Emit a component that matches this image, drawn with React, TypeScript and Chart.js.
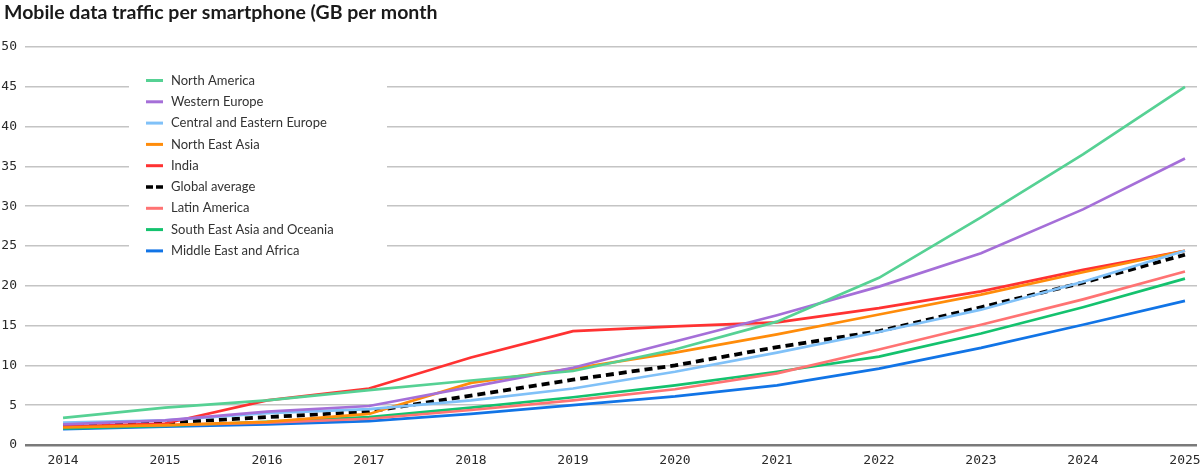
import React, { useEffect, useRef } from "react";
import { Chart, registerables } from "chart.js";

Chart.register(...registerables);

const titleText = "Mobile data traffic per smartphone (GB per month";

const years = [2014, 2015, 2016, 2017, 2018, 2019, 2020, 2021, 2022, 2023, 2024, 2025];
const yTicks = [0, 5, 10, 15, 20, 25, 30, 35, 40, 45, 50];

const northAmerica = [3.4, 4.7, 5.6, 6.9, 8.1, 9.3, 12.0, 15.5, 21.0, 28.6, 36.5, 45.0];
const westernEurope = [2.6, 3.1, 4.2, 4.9, 7.3, 9.7, 13.0, 16.3, 19.9, 24.1, 29.6, 36.0];
const centralEasternEurope = [2.8, 3.1, 4.0, 4.5, 5.6, 7.1, 9.2, 11.6, 14.2, 17.0, 20.5, 24.4];
const northEastAsia = [2.2, 2.5, 2.9, 3.9, 7.8, 9.6, 11.6, 13.9, 16.4, 18.9, 21.7, 24.4];
const india = [2.3, 2.7, 5.6, 7.1, 11.0, 14.3, 14.9, 15.4, 17.2, 19.3, 22.0, 24.4];
const globalAverage = [2.4, 2.8, 3.5, 4.2, 6.2, 8.2, 10.0, 12.3, 14.3, 17.3, 20.4, 23.9];
const latinAmerica = [2.3, 2.5, 2.8, 3.3, 4.4, 5.6, 7.0, 9.0, 12.0, 15.1, 18.3, 21.8];
const southEastAsiaOceania = [2.1, 2.4, 2.9, 3.5, 4.7, 6.0, 7.5, 9.2, 11.1, 14.0, 17.3, 20.9];
const middleEastAfrica = [2.0, 2.3, 2.6, 3.0, 3.9, 5.0, 6.1, 7.5, 9.6, 12.2, 15.1, 18.1];

const seriesNames = [
  "North America",
  "Western Europe",
  "Central and Eastern Europe",
  "North East Asia",
  "India",
  "Global average",
  "Latin America",
  "South East Asia and Oceania",
  "Middle East and Africa",
];
const seriesValues = [
  northAmerica,
  westernEurope,
  centralEasternEurope,
  northEastAsia,
  india,
  globalAverage,
  latinAmerica,
  southEastAsiaOceania,
  middleEastAfrica,
];
const seriesColors = [
  "#56d194",
  "#a56fd8",
  "#80c1f8",
  "#ff8c0a",
  "#ff3232",
  "#000000",
  "#ff7373",
  "#14c26e",
  "#1174e6",
];
const dashedSeries = [false, false, false, false, false, true, false, false, false];

const labelFont = "'Lato', 'Noto Sans', sans-serif";
const tickFont = "'DejaVu Sans Mono', monospace";

const titlePlugin = {
  id: "topTitle",
  afterDraw(chart: any) {
    const ctx = chart.ctx;
    ctx.save();
    ctx.fillStyle = "#1a1a1a";
    ctx.font = `bold 19.5px ${labelFont}`;
    ctx.textBaseline = "alphabetic";
    ctx.textAlign = "left";
    ctx.fillText(titleText, 4, 19);
    ctx.restore();
  },
};

const boxLegendPlugin = {
  id: "boxLegend",
  afterDatasetsDraw(chart: any) {
    const ctx = chart.ctx;
    const area = chart.chartArea;
    const boxX = area.left + 104;
    const boxY = area.top + 14;
    ctx.save();
    ctx.fillStyle = "#ffffff";
    ctx.fillRect(boxX, boxY, 258, 206);
    const swX = boxX + 17;
    const swW = 17;
    const textX = boxX + 42;
    const rowY0 = area.top + 33.5;
    const rowStep = 21.3;
    chart.data.datasets.forEach((ds: any, i: number) => {
      const y = rowY0 + i * rowStep;
      ctx.beginPath();
      ctx.strokeStyle = ds.borderColor;
      ctx.lineWidth = ds.borderDash && ds.borderDash.length ? 3.5 : 3;
      ctx.setLineDash(ds.borderDash && ds.borderDash.length ? [7, 3] : []);
      ctx.moveTo(swX, y);
      ctx.lineTo(swX + swW, y);
      ctx.stroke();
      ctx.setLineDash([]);
      ctx.fillStyle = "#333333";
      ctx.font = `13px ${labelFont}`;
      ctx.textBaseline = "middle";
      ctx.textAlign = "left";
      ctx.fillText(ds.label, textX, y);
    });
    ctx.restore();
  },
};

export default function App() {
  const canvasRef = useRef<HTMLCanvasElement | null>(null);

  useEffect(() => {
    const canvas = canvasRef.current;
    if (!canvas) return;
    const datasets = seriesNames.map((name, i) => ({
      label: name,
      data: years.map((yr, j) => ({ x: yr, y: seriesValues[i][j] })),
      borderColor: seriesColors[i],
      backgroundColor: seriesColors[i],
      borderWidth: dashedSeries[i] ? 3.8 : 2.7,
      borderDash: dashedSeries[i] ? [8, 5] : [],
      pointRadius: 0,
      pointHoverRadius: 0,
      tension: 0,
      fill: false,
    }));

    const chart = new Chart(canvas, {
      type: "line",
      data: { datasets },
      options: {
        animation: false,
        responsive: false,
        maintainAspectRatio: false,
        layout: { padding: { top: 47, left: 0, right: 3, bottom: 0 } },
        plugins: {
          legend: { display: false },
          title: { display: false },
          tooltip: { enabled: false },
        },
        scales: {
          x: {
            type: "linear",
            min: years[0] - 0.373,
            max: years[years.length - 1] + 0.118,
            afterBuildTicks: (scale: any) => {
              scale.ticks = years.map((v) => ({ value: v }));
            },
            afterFit: (scale: any) => {
              scale.height = 25;
              scale.paddingLeft = 0;
              scale.paddingRight = 0;
            },
            grid: { display: false, drawTicks: false },
            border: { display: false },
            ticks: {
              autoSkip: false,
              maxRotation: 0,
              padding: 8,
              color: "#2a2a2a",
              font: { family: tickFont, size: 13 },
              callback: (v: any) => String(v),
            },
          },
          y: {
            type: "linear",
            min: 0,
            max: 50,
            afterBuildTicks: (scale: any) => {
              scale.ticks = yTicks.map((v) => ({ value: v }));
            },
            afterFit: (scale: any) => {
              scale.width = 25;
              scale.paddingTop = 0;
              scale.paddingBottom = 0;
            },
            grid: {
              drawTicks: false,
              color: (c: any) => (c.tick && c.tick.value === 0 ? "#7a7a7a" : "#c4c4c4"),
              lineWidth: (c: any) => (c.tick && c.tick.value === 0 ? 2.5 : 1.5),
            },
            border: { display: false },
            ticks: {
              padding: 8,
              color: "#2a2a2a",
              font: { family: tickFont, size: 13 },
              callback: (v: any) => String(v),
            },
          },
        },
      },
      plugins: [boxLegendPlugin, titlePlugin],
    });
    return () => chart.destroy();
  }, []);

  return (
    <div
      style={{
        position: "fixed",
        left: 0,
        top: 0,
        width: 1200,
        height: 470,
        background: "#ffffff",
      }}
    >
      <canvas ref={canvasRef} width={1200} height={470} style={{ display: "block" }} />
    </div>
  );
}
